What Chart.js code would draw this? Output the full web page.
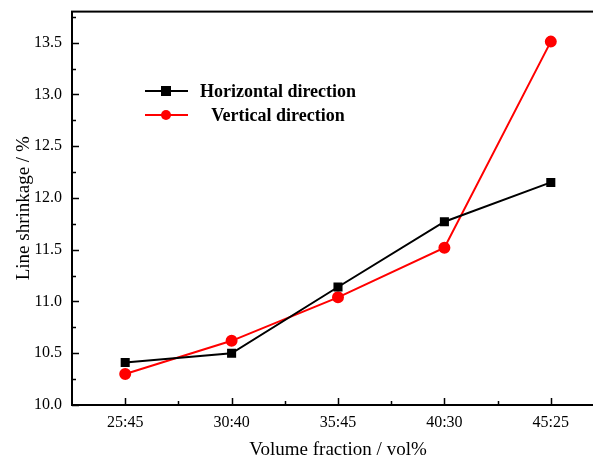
<!DOCTYPE html>
<html>
<head>
<meta charset="utf-8">
<script src="https://cdn.jsdelivr.net/npm/chart.js@4.4.0/dist/chart.umd.min.js"></script>
<style>
  html, body { margin: 0; padding: 0; background: #fff; overflow: hidden; }
  canvas { display: block; }
</style>
</head>
<body>
<canvas id="shrink" width="612" height="461"></canvas>
<script>
// ==== DATA ====
const categories = ['25:45', '30:40', '35:45', '40:30', '45:25'];
const horizontal = [10.41, 10.50, 11.14, 11.77, 12.15];
const vertical   = [10.30, 10.62, 11.04, 11.52, 13.51];
const yTicks = [10.0, 10.5, 11.0, 11.5, 12.0, 12.5, 13.0, 13.5];
const yMinor = [10.25, 10.75, 11.25, 11.75, 12.25, 12.75, 13.25, 13.75];
const seriesNames = ['Horizontal direction', 'Vertical direction'];
const seriesColors = ['#000000', '#ff0000'];

const serif = '"Liberation Serif", "Times New Roman", serif';

function pts(arr) { return arr.map((v, i) => ({ x: i, y: v })); }

// Frame + inward ticks, drawn from the scales
const framePlugin = {
  id: 'frame',
  afterDraw(chart) {
    const { ctx, chartArea: a, scales } = chart;
    ctx.save();
    ctx.strokeStyle = '#000';
    ctx.lineWidth = 2;
    ctx.strokeRect(a.left, a.top, a.right - a.left, a.bottom - a.top);
    ctx.lineWidth = 1.5;
    ctx.beginPath();
    yTicks.forEach(v => {
      const y = Math.round(scales.y.getPixelForValue(v)) + 0.5;
      ctx.moveTo(a.left, y); ctx.lineTo(a.left + 7, y);
    });
    yMinor.forEach(v => {
      const y = Math.round(scales.y.getPixelForValue(v)) + 0.5;
      ctx.moveTo(a.left, y); ctx.lineTo(a.left + 4, y);
    });
    categories.forEach((c, i) => {
      const x = Math.round(scales.x.getPixelForValue(i)) + 0.5;
      ctx.moveTo(x, a.bottom); ctx.lineTo(x, a.bottom - 7);
      if (i < categories.length - 1) {
        const xm = Math.round(scales.x.getPixelForValue(i + 0.5)) + 0.5;
        ctx.moveTo(xm, a.bottom); ctx.lineTo(xm, a.bottom - 4);
      }
    });
    ctx.stroke();
    ctx.restore();
  }
};

// Legend box inside the plot
const legendPlugin = {
  id: 'innerLegend',
  afterDraw(chart) {
    const { ctx } = chart;
    const rows = [91, 115];
    ctx.save();
    rows.forEach((y, i) => {
      ctx.strokeStyle = seriesColors[i];
      ctx.fillStyle = seriesColors[i];
      ctx.lineWidth = 2;
      ctx.beginPath();
      ctx.moveTo(145, y); ctx.lineTo(188, y);
      ctx.stroke();
      if (i === 0) {
        ctx.fillRect(161, y - 5, 10, 10);
      } else {
        ctx.beginPath();
        ctx.arc(166, y, 5, 0, Math.PI * 2);
        ctx.fill();
      }
      ctx.fillStyle = '#000';
      ctx.font = 'bold 18px ' + serif;
      ctx.textAlign = 'center';
      ctx.textBaseline = 'middle';
      ctx.fillText(seriesNames[i], 278, y + 1);
    });
    ctx.restore();
  }
};

new Chart(document.getElementById('shrink'), {
  type: 'line',
  data: {
    datasets: [
      {
        label: seriesNames[0],
        data: pts(horizontal),
        borderColor: seriesColors[0],
        backgroundColor: seriesColors[0],
        borderWidth: 2,
        pointStyle: 'rect',
        pointRadius: 5,
        pointHoverRadius: 5,
        tension: 0
      },
      {
        label: seriesNames[1],
        data: pts(vertical),
        borderColor: seriesColors[1],
        backgroundColor: seriesColors[1],
        borderWidth: 2,
        pointStyle: 'circle',
        pointRadius: 5,
        pointHoverRadius: 5,
        tension: 0
      }
    ]
  },
  options: {
    responsive: false,
    animation: false,
    layout: { padding: { top: 2, right: 8, left: 0, bottom: 0 } },
    plugins: {
      legend: { display: false },
      tooltip: { enabled: false }
    },
    scales: {
      x: {
        type: 'linear',
        min: -0.5,
        max: 4.5,
        grid: { display: false },
        border: { display: false },
        afterBuildTicks: s => { s.ticks = categories.map((c, i) => ({ value: i })); },
        afterFit: s => { s.height = 56; },
        ticks: {
          autoSkip: false,
          maxRotation: 0,
          padding: 0,
          color: '#000',
          font: { family: serif, size: 16 },
          callback: v => categories[v]
        },
        title: {
          display: true,
          text: 'Volume fraction / vol%',
          color: '#000',
          font: { family: serif, size: 19 },
          padding: 0
        }
      },
      y: {
        min: 10,
        max: 13.8,
        grid: { display: false },
        border: { display: false },
        afterBuildTicks: s => { s.ticks = yTicks.map(v => ({ value: v })); },
        afterFit: s => { s.width = 72; },
        ticks: {
          padding: 2,
          color: '#000',
          font: { family: serif, size: 16 },
          callback: v => v.toFixed(1)
        },
        title: {
          display: true,
          text: 'Line shrinkage / %',
          color: '#000',
          font: { family: serif, size: 19 },
          padding: { top: 13, bottom: 0 }
        }
      }
    }
  },
  plugins: [framePlugin, legendPlugin]
});
</script>
</body>
</html>
